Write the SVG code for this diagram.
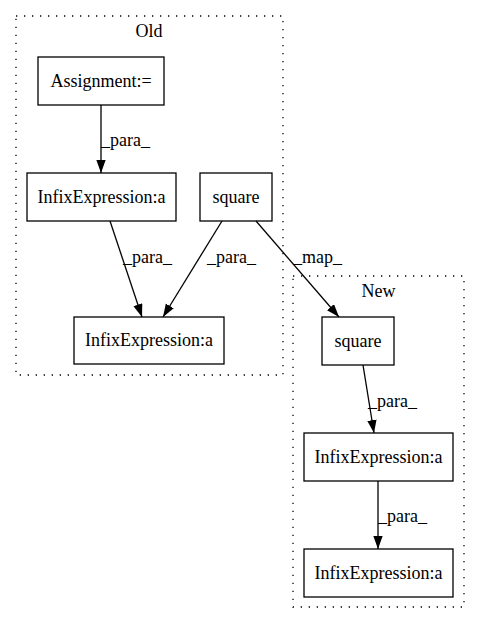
<svg xmlns="http://www.w3.org/2000/svg" width="480" height="624" viewBox="0 0 480 624">
<style>
text{font-family:"Liberation Serif","Times New Roman",serif;font-size:18px;fill:#000}
.n{text-anchor:middle}
.box{fill:none;stroke:#000;stroke-width:1.3}
.cl{fill:none;stroke:#000;stroke-width:1.3;stroke-dasharray:1.3,6.7}
.e{fill:none;stroke:#000;stroke-width:1.3;marker-end:url(#arr)}
</style>
<defs>
<marker id="arr" markerUnits="userSpaceOnUse" markerWidth="14" markerHeight="10" refX="13" refY="4.65" orient="auto">
<path d="M0,0 L13,4.65 L0,9.3 z" fill="#000"/>
</marker>
</defs>
<rect width="480" height="624" fill="#fff"/>
<g id="cluster_old">
<rect class="cl" x="16" y="16" width="267" height="359"/>
<text class="n" x="149" y="37">Old</text>
</g>
<g id="cluster_new">
<rect class="cl" x="293" y="276" width="171" height="331"/>
<text class="n" x="378.5" y="297">New</text>
</g>
<g id="old_assign">
<rect class="box" x="38" y="57" width="126" height="48"/>
<text class="n" x="101" y="87">Assignment:=</text>
</g>
<g id="old_infix1">
<rect class="box" x="27" y="173" width="149" height="48"/>
<text class="n" x="101.5" y="203">InfixExpression:a</text>
</g>
<g id="old_square">
<rect class="box" x="200" y="173" width="72" height="48"/>
<text class="n" x="236" y="203">square</text>
</g>
<g id="old_infix2">
<rect class="box" x="74" y="317" width="150" height="47"/>
<text class="n" x="149" y="346">InfixExpression:a</text>
</g>
<g id="new_square">
<rect class="box" x="322" y="317" width="72" height="48"/>
<text class="n" x="358" y="347">square</text>
</g>
<g id="new_infix1">
<rect class="box" x="304" y="433" width="149" height="48"/>
<text class="n" x="378.5" y="463">InfixExpression:a</text>
</g>
<g id="new_infix2">
<rect class="box" x="304" y="549" width="149" height="48"/>
<text class="n" x="378.5" y="579">InfixExpression:a</text>
</g>
<g id="edges">
<path class="e" d="M101,105 L101,173"/>
<text x="101" y="146">_para_</text>
<path class="e" d="M110,221 L142,317"/>
<text x="123" y="263">_para_</text>
<path class="e" d="M222,221 L163,317"/>
<text x="207" y="263">_para_</text>
<path class="e" d="M256,221 L339,317"/>
<text x="293" y="263">_map_</text>
<path class="e" d="M363,365 L374,433"/>
<text x="368" y="407">_para_</text>
<path class="e" d="M378,481 L378,549"/>
<text x="378" y="522">_para_</text>
</g>
</svg>
